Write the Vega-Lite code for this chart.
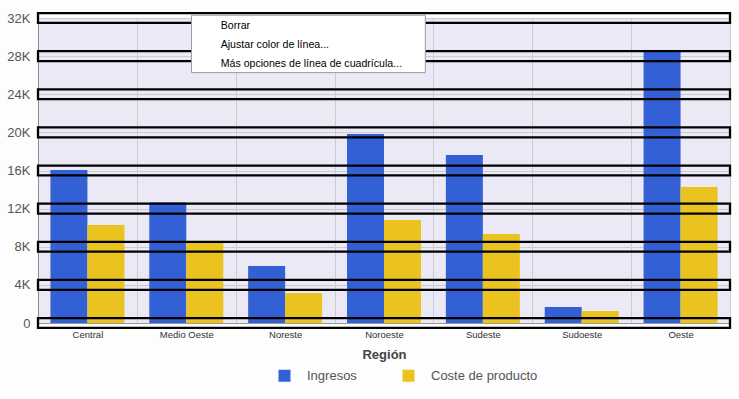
{
  "$schema": "https://vega.github.io/schema/vega-lite/v6.json",
  "width": 692,
  "height": 305,
  "autosize": {"type": "none"},
  "padding": {"left": 38, "top": 18, "right": 9, "bottom": 76},
  "background": "#fcfdfc",
  "config": {
    "font": "Liberation Sans",
    "view": {"fill": "#ebe9f5", "stroke": "#c8c8c8"},
    "axis": {"labelOverlap": false},
    "axisY": {"labelOverlap": false},
    "axisQuantitative": {"labelOverlap": false}
  },
  "layer": [
    {
      "data": {
        "values": [
          {"region": "Central", "series": "Ingresos", "value": 16050},
          {"region": "Central", "series": "Coste de producto", "value": 10280},
          {"region": "Medio Oeste", "series": "Ingresos", "value": 12630},
          {"region": "Medio Oeste", "series": "Coste de producto", "value": 8390},
          {"region": "Noreste", "series": "Ingresos", "value": 5980},
          {"region": "Noreste", "series": "Coste de producto", "value": 3150},
          {"region": "Noroeste", "series": "Ingresos", "value": 19830},
          {"region": "Noroeste", "series": "Coste de producto", "value": 10810},
          {"region": "Sudeste", "series": "Ingresos", "value": 17630},
          {"region": "Sudeste", "series": "Coste de producto", "value": 9340},
          {"region": "Sudoeste", "series": "Ingresos", "value": 1680},
          {"region": "Sudoeste", "series": "Coste de producto", "value": 1260},
          {"region": "Oeste", "series": "Ingresos", "value": 28470},
          {"region": "Oeste", "series": "Coste de producto", "value": 14270}
        ]
      },
      "mark": {"type": "bar"},
      "encoding": {
        "x": {
          "field": "region",
          "type": "nominal",
          "sort": ["Central", "Medio Oeste", "Noreste", "Noroeste", "Sudeste", "Sudoeste", "Oeste"],
          "scale": {"paddingInner": 0, "paddingOuter": 0},
          "title": "Región",
          "axis": {
            "labelAngle": 0,
            "tickBand": "extent",
            "grid": true,
            "gridColor": "#cccccc",
            "ticks": false,
            "domainColor": "#999999",
            "labelFont": "Liberation Sans",
            "labelFontSize": 9.5,
            "labelColor": "#333333",
            "labelPadding": 6,
            "titleFont": "Liberation Sans",
            "titleFontSize": 13,
            "titleFontWeight": "bold",
            "titleColor": "#444444",
            "titlePadding": 10
          }
        },
        "xOffset": {
          "field": "series",
          "type": "nominal",
          "sort": ["Ingresos", "Coste de producto"],
          "scale": {"paddingInner": 0, "paddingOuter": 0.336}
        },
        "y": {
          "field": "value",
          "type": "quantitative",
          "scale": {"domain": [0, 32000], "nice": false},
          "title": null,
          "axis": {
            "values": [0, 4000, 8000, 12000, 16000, 20000, 24000, 28000, 32000],
            "labelExpr": "datum.value == 0 ? '0' : (datum.value / 1000) + 'K'",
            "labelOverlap": false,
            "grid": true,
            "gridColor": "#cccccc",
            "ticks": false,
            "domainColor": "#8c8c8c",
            "labelFont": "Liberation Sans",
            "labelFontSize": 13,
            "labelColor": "#555555",
            "labelPadding": 8
          }
        },
        "color": {
          "field": "series",
          "type": "nominal",
          "scale": {"domain": ["Ingresos", "Coste de producto"], "range": ["#3460d5", "#eac31e"]},
          "legend": {
            "title": null,
            "orient": "none",
            "direction": "horizontal",
            "legendX": 240,
            "legendY": 351,
            "padding": 0,
            "symbolType": "square",
            "symbolSize": 144,
            "symbolStrokeWidth": 0,
            "labelFont": "Liberation Sans",
            "labelFontSize": 13,
            "labelColor": "#555555",
            "labelOffset": 16,
            "columnPadding": 45
          }
        }
      }
    },
    {
      "data": {
        "values": [
          {"g": 0, "lo": -520, "hi": 520},
          {"g": 4000, "lo": 3480, "hi": 4520},
          {"g": 8000, "lo": 7480, "hi": 8520},
          {"g": 12000, "lo": 11480, "hi": 12520},
          {"g": 16000, "lo": 15480, "hi": 16520},
          {"g": 20000, "lo": 19480, "hi": 20520},
          {"g": 24000, "lo": 23480, "hi": 24520},
          {"g": 28000, "lo": 27480, "hi": 28520},
          {"g": 32000, "lo": 31480, "hi": 32520}
        ]
      },
      "mark": {"type": "rect", "fill": "transparent", "stroke": "#000000", "strokeWidth": 2.3},
      "encoding": {
        "y": {
          "field": "lo",
          "type": "quantitative",
          "title": null,
          "axis": {
            "values": [0, 4000, 8000, 12000, 16000, 20000, 24000, 28000, 32000],
            "labelExpr": "datum.value == 0 ? '0' : (datum.value / 1000) + 'K'",
            "labelOverlap": false,
            "grid": true,
            "gridColor": "#cccccc",
            "ticks": false,
            "domainColor": "#8c8c8c",
            "labelFont": "Liberation Sans",
            "labelFontSize": 13,
            "labelColor": "#555555",
            "labelPadding": 8
          }
        },
        "y2": {"field": "hi"}
      }
    },
    {
      "data": {"values": [{"menu": "Borrar|Ajustar color de línea...|Más opciones de línea de cuadrícula..."}]},
      "mark": {"type": "rect", "fill": "#ffffff", "stroke": "#9a9a9a", "strokeWidth": 1},
      "encoding": {
        "x": {"datum": "Medio Oeste", "type": "nominal", "bandPosition": 0.553, "title": "Región"},
        "x2": {"datum": "Noroeste", "bandPosition": 0.918},
        "y": {
          "datum": 32290,
          "type": "quantitative",
          "title": null,
          "axis": {
            "values": [0, 4000, 8000, 12000, 16000, 20000, 24000, 28000, 32000],
            "labelExpr": "datum.value == 0 ? '0' : (datum.value / 1000) + 'K'",
            "labelOverlap": false,
            "grid": true,
            "gridColor": "#cccccc",
            "ticks": false,
            "domainColor": "#8c8c8c",
            "labelFont": "Liberation Sans",
            "labelFontSize": 13,
            "labelColor": "#555555",
            "labelPadding": 8
          }
        },
        "y2": {"datum": 26270}
      }
    },
    {
      "data": {"values": [{"menu": "Borrar|Ajustar color de línea...|Más opciones de línea de cuadrícula..."}]},
      "mark": {
        "type": "text",
        "align": "left",
        "baseline": "middle",
        "lineBreak": "|",
        "lineHeight": 19,
        "font": "Liberation Sans",
        "fontSize": 10.6,
        "color": "#000000"
      },
      "encoding": {
        "x": {"datum": "Medio Oeste", "type": "nominal", "bandPosition": 0.848, "title": "Región"},
        "y": {
          "datum": 31160,
          "type": "quantitative",
          "title": null,
          "axis": {
            "values": [0, 4000, 8000, 12000, 16000, 20000, 24000, 28000, 32000],
            "labelExpr": "datum.value == 0 ? '0' : (datum.value / 1000) + 'K'",
            "labelOverlap": false,
            "grid": true,
            "gridColor": "#cccccc",
            "ticks": false,
            "domainColor": "#8c8c8c",
            "labelFont": "Liberation Sans",
            "labelFontSize": 13,
            "labelColor": "#555555",
            "labelPadding": 8
          }
        },
        "text": {"field": "menu"}
      }
    }
  ]
}
